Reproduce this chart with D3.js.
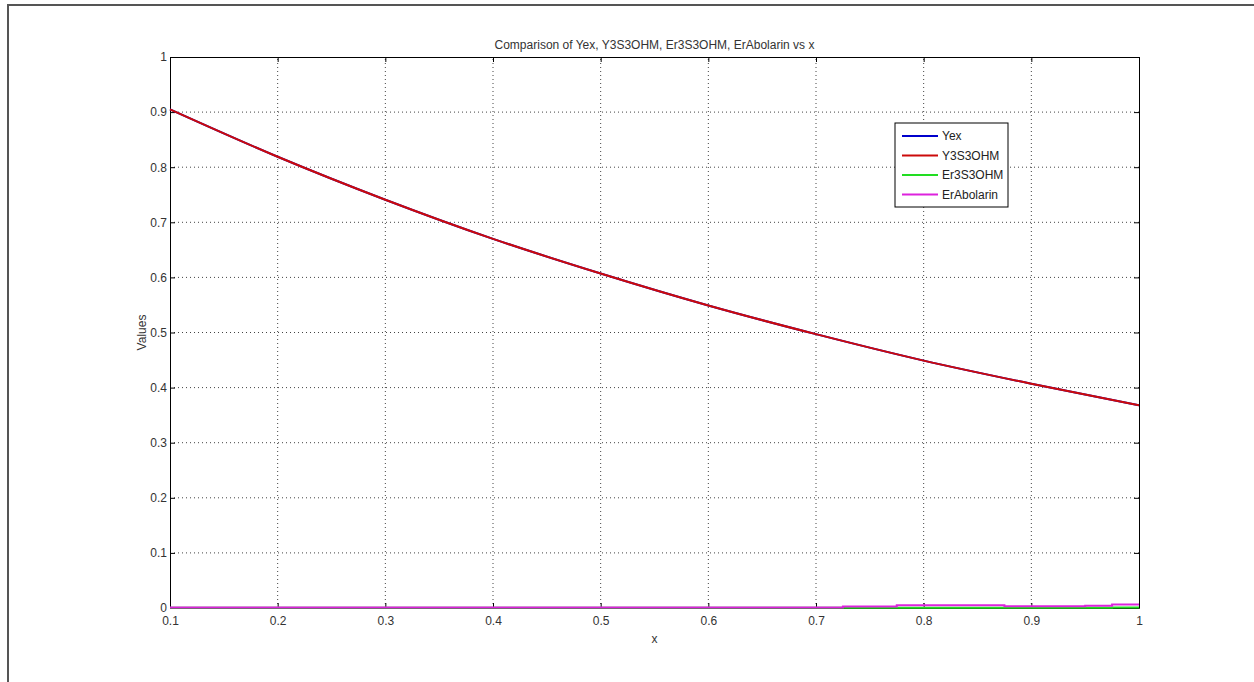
<!DOCTYPE html>
<html lang="en">
<head>
    <meta charset="UTF-8">
    <title>Comparison of Yex, Y3S3OHM, Er3S3OHM, ErAbolarin vs x</title>
    <script src="https://d3js.org/d3.v7.min.js"></script>
    <style>
        body {
            margin: 0;
            background: #fff;
            font-family: "Liberation Sans", Arial, sans-serif;
        }
        .tick text {
            fill: #333;
            font-size: 12px;
        }
    </style>
</head>
<body>
    <svg id="chart" width="1254" height="682"></svg>
    <script>
        // values
        let xs = [0.1, 0.2, 0.3, 0.4, 0.5, 0.6, 0.7, 0.8, 0.9, 1.0]
        let yex = [0.905, 0.819, 0.741, 0.670, 0.607, 0.549, 0.497, 0.449, 0.407, 0.368]
        let y3s3ohm = [0.905, 0.819, 0.741, 0.670, 0.607, 0.549, 0.497, 0.449, 0.407, 0.368]

        let xsErr = [0.1, 0.3, 0.5, 0.7, 0.725, 0.75, 0.775, 0.85, 0.875, 0.925, 0.95, 0.975, 1.0]
        let er3s3ohm = [0.0004, 0.0004, 0.0004, 0.0004, 0.0004, 0.0005, 0.0005, 0.0005, 0.0005, 0.0006, 0.0006, 0.0007, 0.0007]
        let erAbolarin = [0.0009, 0.0009, 0.0009, 0.0009, 0.0025, 0.0025, 0.0048, 0.0048, 0.003, 0.003, 0.004, 0.0062, 0.0062]

        let xTicks = [0.1, 0.2, 0.3, 0.4, 0.5, 0.6, 0.7, 0.8, 0.9, 1]
        let yTicks = [0, 0.1, 0.2, 0.3, 0.4, 0.5, 0.6, 0.7, 0.8, 0.9, 1]

        let seriesNames = ["Yex", "Y3S3OHM", "Er3S3OHM", "ErAbolarin"]
        let seriesColors = ["#0000cc", "#cc0a0a", "#22dd22", "#dd22dd"]

        let svg = d3.select("#chart")
        let margin = { left: 170, right: 115, top: 57, bottom: 74 }
        let width = 1254, height = 682

        // figure frame (only top and left edges show)
        svg.append("path")
            .attr("d", `M8,${height} L8,5 L${width},5`)
            .attr("fill", "none")
            .attr("stroke", "#555")
            .attr("stroke-width", 2)

        let x = d3.scaleLinear().domain([0.1, 1]).range([margin.left, width - margin.right])
        let y = d3.scaleLinear().domain([0, 1]).range([height - margin.bottom, margin.top])

        // dotted grid
        let grid = svg.append("g")
        grid.selectAll(".gx").data(xTicks.slice(1, -1)).enter().append("line")
            .attr("x1", d => x(d)).attr("x2", d => x(d))
            .attr("y1", y(0)).attr("y2", y(1))
            .attr("stroke", "#444").attr("stroke-width", 1).attr("stroke-dasharray", "1,3")
        grid.selectAll(".gy").data(yTicks.slice(1, -1)).enter().append("line")
            .attr("x1", x(0.1)).attr("x2", x(1))
            .attr("y1", d => y(d)).attr("y2", d => y(d))
            .attr("stroke", "#444").attr("stroke-width", 1).attr("stroke-dasharray", "1,3")

        // axes with inward ticks
        svg.append("g")
            .attr("transform", `translate(0,${y(0)})`)
            .call(d3.axisBottom(x).tickValues(xTicks).tickFormat(d3.format("~g")).tickSizeInner(-5).tickSizeOuter(0).tickPadding(8))
        svg.append("g")
            .attr("transform", `translate(${x(0.1)},0)`)
            .call(d3.axisLeft(y).tickValues(yTicks).tickFormat(d3.format("~g")).tickSizeInner(-5).tickSizeOuter(0).tickPadding(3))
        svg.append("g")
            .attr("transform", `translate(0,${y(1)})`)
            .call(d3.axisTop(x).tickValues(xTicks).tickFormat("").tickSizeInner(-5).tickSizeOuter(0))
        svg.append("g")
            .attr("transform", `translate(${x(1)},0)`)
            .call(d3.axisRight(y).tickValues(yTicks).tickFormat("").tickSizeInner(-5).tickSizeOuter(0))
        svg.selectAll(".domain").attr("stroke", "#000")
        svg.selectAll(".tick line").attr("stroke", "#000")

        // lines
        let smooth = d3.line().x(d => x(d[0])).y(d => y(d[1])).curve(d3.curveMonotoneX)
        let steps = d3.line().x(d => x(d[0])).y(d => y(d[1])).curve(d3.curveStepAfter)
        let series = [
            smooth(d3.zip(xs, yex)),
            smooth(d3.zip(xs, y3s3ohm)),
            steps(d3.zip(xsErr, er3s3ohm)),
            steps(d3.zip(xsErr, erAbolarin))
        ]
        svg.append("g").selectAll("path").data(series).enter().append("path")
            .attr("d", d => d)
            .attr("fill", "none")
            .attr("stroke", (d, i) => seriesColors[i])
            .attr("stroke-width", 2)

        // title and labels
        svg.append("text")
            .attr("x", (x(0.1) + x(1)) / 2).attr("y", 49)
            .attr("text-anchor", "middle")
            .attr("font-size", 12).attr("fill", "#333")
            .text("Comparison of Yex, Y3S3OHM, Er3S3OHM, ErAbolarin vs x")
        svg.append("text")
            .attr("x", (x(0.1) + x(1)) / 2).attr("y", 643)
            .attr("text-anchor", "middle")
            .attr("font-size", 12).attr("fill", "#333")
            .text("x")
        svg.append("text")
            .attr("transform", `translate(146,${(y(0) + y(1)) / 2}) rotate(-90)`)
            .attr("text-anchor", "middle")
            .attr("font-size", 12).attr("fill", "#333")
            .text("Values")

        // legend
        let legend = svg.append("g").attr("transform", "translate(895,123)")
        legend.append("rect")
            .attr("width", 113).attr("height", 84)
            .attr("fill", "#fff").attr("stroke", "#000").attr("stroke-width", 1)
        seriesNames.forEach(function (name, i) {
            let ly = 13 + i * 19.5
            legend.append("line")
                .attr("x1", 7).attr("x2", 43).attr("y1", ly).attr("y2", ly)
                .attr("stroke", seriesColors[i]).attr("stroke-width", 2)
            legend.append("text")
                .attr("x", 47).attr("y", ly + 4)
                .attr("font-size", 12).attr("fill", "#222")
                .text(name)
        })
    </script>
</body>
</html>
